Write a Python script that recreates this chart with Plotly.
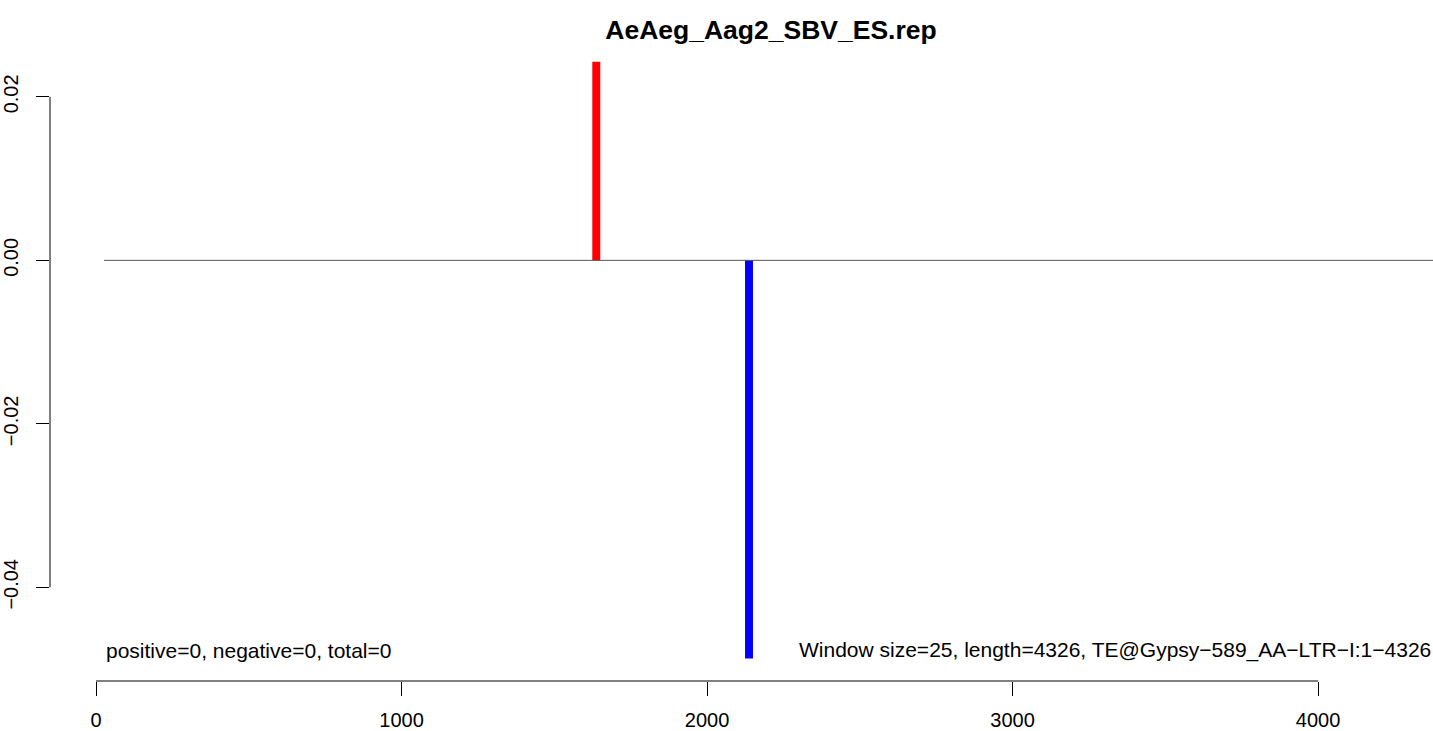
import plotly.graph_objects as go

# ---- data ----
title_text = "AeAeg_Aag2_SBV_ES.rep"
pos_x = [1637.5]          # window centre of positive signal
pos_y = [0.0243]
neg_x = [2137.5]          # window centre of negative signal
neg_y = [-0.0487]
window_size = 25
baseline_x = [26, 4500]
baseline_y = [0, 0]
x_ticks = [0, 1000, 2000, 3000, 4000]
x_ticklabels = ["0", "1000", "2000", "3000", "4000"]
y_ticks = [0.02, 0.0, -0.02, -0.04]
y_ticklabels = ["0.02", "0.00", "\u22120.02", "\u22120.04"]
left_note = "positive=0, negative=0, total=0"
right_note = "Window size=25, length=4326, TE@Gypsy\u2212589_AA\u2212LTR\u2212I:1\u22124326"

FONT = "Liberation Sans, Arial, Helvetica, sans-serif"

fig = go.Figure()
fig.add_trace(go.Scatter(x=baseline_x, y=baseline_y, mode="lines",
                         line=dict(color="#555555", width=1), hoverinfo="skip"))
fig.add_trace(go.Bar(x=pos_x, y=pos_y, width=[window_size + 1] * len(pos_x),
                     marker=dict(color="#ff0000", line=dict(width=0))))
fig.add_trace(go.Bar(x=neg_x, y=neg_y, width=[window_size + 1] * len(neg_x),
                     marker=dict(color="#0000ff", line=dict(width=0))))

# R-style axis lines spanning only first..last tick
fig.add_shape(type="line", xref="x", yref="paper", x0=x_ticks[0], x1=x_ticks[-1],
              y0=0, y1=0, line=dict(color="black", width=1))
fig.add_shape(type="line", xref="paper", yref="y", x0=0, x1=0,
              y0=min(y_ticks), y1=max(y_ticks), line=dict(color="black", width=1))

fig.add_annotation(text=left_note, xref="x", yref="y", x=baseline_x[0], y=-0.0477,
                   xanchor="left", yanchor="middle", showarrow=False,
                   font=dict(family=FONT, size=21, color="black"))
fig.add_annotation(text=right_note, xref="paper", yref="y", x=1.0, y=-0.0477,
                   xanchor="right", yanchor="middle", showarrow=False,
                   font=dict(family=FONT, size=21, color="black"))

fig.update_layout(
    width=1433, height=731,
    margin=dict(l=50, r=0, t=38, b=46),
    paper_bgcolor="white", plot_bgcolor="white",
    showlegend=False, barmode="overlay",
    title=dict(text="<b>" + title_text + "</b>", x=771 / 1433, xref="container",
               xanchor="center", y=1 - 30 / 731, yanchor="middle",
               font=dict(family=FONT, size=26.5, color="black")),
    xaxis=dict(range=[-150.6, 4376.4], tickvals=x_ticks, ticktext=x_ticklabels,
               ticks="outside", ticklen=14, tickwidth=1, tickcolor="black",
               ticklabelstandoff=7,
               showgrid=False, zeroline=False, showline=False,
               tickfont=dict(family=FONT, size=20, color="black")),
    yaxis=dict(range=[-0.05146, 0.0272], tickvals=y_ticks, ticktext=y_ticklabels,
               ticks="outside", ticklen=13, tickwidth=1, tickcolor="black",
               ticklabelstandoff=10,
               tickangle=-90, showgrid=False, zeroline=False, showline=False,
               tickfont=dict(family=FONT, size=20, color="black")),
)

fig.write_html("out.html", config={"displayModeBar": False},
               post_script="document.body.style.margin='0';document.body.style.overflow='hidden';")
